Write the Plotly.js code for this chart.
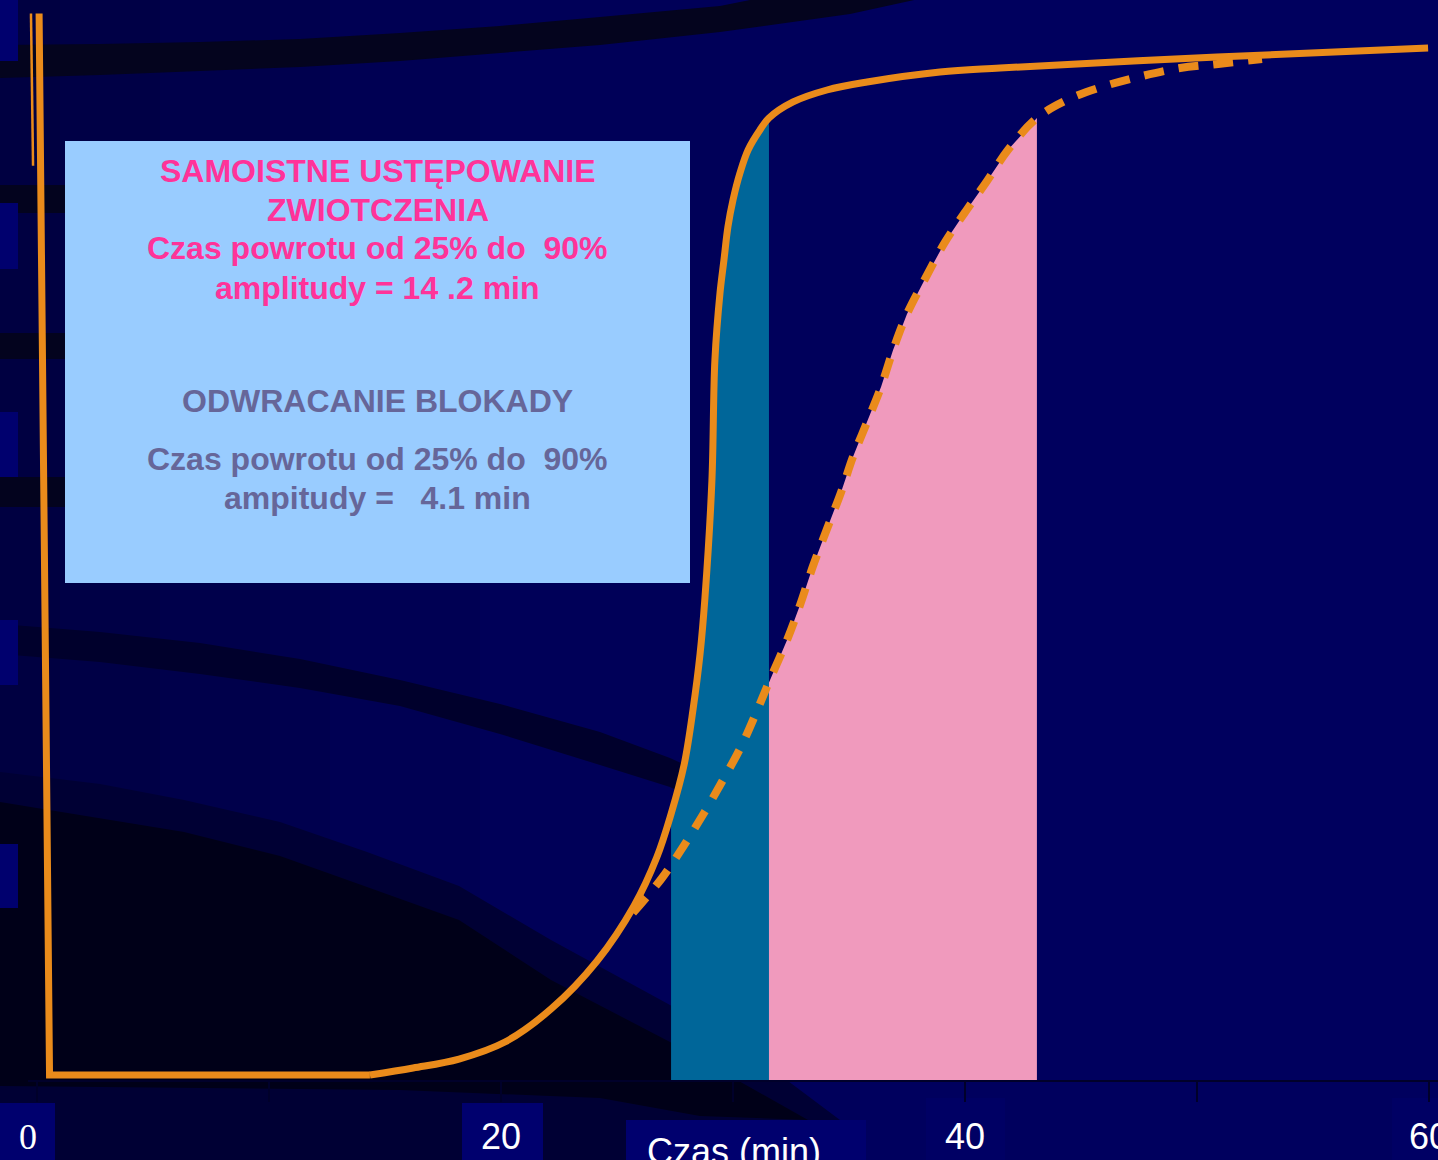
<!DOCTYPE html>
<html><head><meta charset="utf-8">
<script src="https://cdn.plot.ly/plotly-3.0.1.min.js"></script>
<style>html,body{margin:0;padding:0;background:#00005E;}#chart{width:1438px;height:1160px;}</style>
</head><body><div id="chart"></div>
<script>
// ---------------- data ----------------
// Odwracanie blokady (solid curve): time [min] vs amplitude [%]
const reversalTime = [0.09, 0.54, 14.35, 16.21, 18.19, 20.17, 22.16, 24.14, 25.73, 26.72, 27.33, 27.89, 28.28, 28.58, 28.79, 29.09, 29.22, 29.44, 29.61, 29.78, 30.00, 30.30, 30.65, 31.16, 31.55, 32.59, 34.05, 35.78, 38.92, 41.51, 50.86, 59.96];
const reversalAmp  = [101.1, 0, 0, 0.67, 1.52, 3.14, 6.29, 10.86, 16.10, 20.76, 24.86, 29.52, 34.86, 40.10, 45.43, 56.57, 68.10, 74.48, 77.62, 80.76, 83.33, 85.90, 88.10, 90.00, 91.14, 92.67, 93.81, 94.57, 95.52, 95.90, 96.95, 97.81];
// Samoistne ustępowanie zwiotczenia (dashed curve)
const spontTime = [25.69, 26.94, 27.84, 28.75, 29.57, 30.34, 31.03, 31.55, 32.33, 32.89, 33.45, 34.05, 34.66, 35.17, 35.78, 36.38, 36.90, 37.50, 38.32, 39.14, 40.04, 40.95, 41.85, 43.10, 44.40, 46.03, 47.63, 49.27, 50.91, 52.80];
const spontAmp  = [15.43, 18.76, 21.71, 24.95, 28.10, 31.24, 34.67, 37.43, 41.43, 44.76, 48.48, 52.00, 55.52, 58.86, 62.19, 65.52, 69.05, 72.48, 76.00, 79.33, 82.29, 85.14, 88.10, 91.14, 92.86, 94.19, 95.14, 95.90, 96.29, 96.76];
// thin starting stroke at the top-left
const startTime = [-0.26, -0.17];
const startAmp  = [101.1, 86.6];
// 25% -> 90% recovery windows
const reversalWindow = [27.33, 31.55];
const spontWindow    = [28.75, 43.10];
// axis ticks
const tickValues = [0, 10, 20, 30, 40, 50, 60];
const tickLabels = ['<span style="font-family:Liberation Serif">0&nbsp;&nbsp;</span>', '', '20', '', '40', '', '60'];
const xTitle = 'Czas (min)';
// text box
const boxLines = [
  'SAMOISTNE USTĘPOWANIE',
  'ZWIOTCZENIA',
  'Czas powrotu od 25% do &nbsp;90%',
  'amplitudy = 14 .2 min',
  'ODWRACANIE BLOKADY',
  'Czas powrotu od 25% do &nbsp;90%',
  'ampitudy = &nbsp; 4.1 min'
];
const boxLineKind = ['pink','pink','pink','pink','grey','grey','grey'];

// ---------------- geometry / style ----------------
const W = 1438, H = 1160, L = 28, R = 0, T = 5, B = 80;
const X0PX = 37, PX_PER_MIN = 23.2, Y0PX = 1075, PX_PER_PCT = 10.5;
const xRange = [(L - X0PX) / PX_PER_MIN, (W - R - X0PX) / PX_PER_MIN];
const yRange = [(Y0PX - (H - B)) / PX_PER_PCT, (Y0PX - T) / PX_PER_PCT];
const plotW = W - L - R, plotH = H - T - B;
const fx = x => (x - L) / plotW;
const fy = y => (H - B - y) / plotH;
function poly(pts) {
  return pts.map((p, i) => (i ? 'L' : 'M') + fx(p[0]).toFixed(5) + ',' + fy(p[1]).toFixed(5)).join(' ') + ' Z';
}
function pshape(pts, color) {
  return {type: 'path', xref: 'paper', yref: 'paper', path: poly(pts), fillcolor: color, line: {width: 0}, layer: 'below'};
}
function rect(x0, y0, x1, y1, color) {
  return {type: 'rect', xref: 'paper', yref: 'paper', x0: fx(x0), x1: fx(x1), y0: fy(y1), y1: fy(y0), fillcolor: color, line: {width: 0}, layer: 'below'};
}

const ORANGE = '#EA8B1B', TEAL = '#006699', PINK = '#F09ABD', BOXBLUE = '#99CCFF';
const PINKTXT = '#FF3399', GREYTXT = '#666699', LABELBOX = '#00006E';
const FONT = 'Liberation Sans, Arial, sans-serif';

function windowPolygon(xs, ys, win) {
  const px = [], py = [];
  xs.forEach((x, i) => { if (x >= win[0] - 1e-9 && x <= win[1] + 1e-9) { px.push(x); py.push(ys[i]); } });
  return {x: [px[0]].concat(px, [px[px.length - 1]]), y: [yRange[0]].concat(py, [yRange[0]])};
}
const pinkPoly = windowPolygon(spontTime, spontAmp, spontWindow);
const tealPoly = windowPolygon(reversalTime, reversalAmp, reversalWindow);

const traces = [
  {x: pinkPoly.x, y: pinkPoly.y, mode: 'lines', fill: 'toself', fillcolor: PINK, line: {width: 0}, hoverinfo: 'skip', showlegend: false},
  {x: tealPoly.x, y: tealPoly.y, mode: 'lines', fill: 'toself', fillcolor: TEAL, line: {width: 0}, hoverinfo: 'skip', showlegend: false},
  {x: spontTime, y: spontAmp, mode: 'lines', name: 'Samoistne ustępowanie', line: {color: ORANGE, width: 8, dash: '20px,15px', shape: 'spline', smoothing: 1}, showlegend: false},
  // solid curve: straight drop + flat baseline, then smooth recovery
  {x: reversalTime.slice(0, 3), y: reversalAmp.slice(0, 3), mode: 'lines', name: 'Odwracanie blokady', line: {color: ORANGE, width: 7}, showlegend: false},
  {x: reversalTime.slice(2), y: reversalAmp.slice(2), mode: 'lines', name: 'Odwracanie blokady', line: {color: ORANGE, width: 7, shape: 'spline', smoothing: 1}, showlegend: false},
  {x: startTime, y: startAmp, mode: 'lines', line: {color: ORANGE, width: 2.5}, hoverinfo: 'skip', showlegend: false}
];

// background decoration (slide template)
const shapes = [];
[[0, 60, 0.30], [60, 160, 0.25], [160, 270, 0.20], [270, 330, 0.16], [330, 480, 0.11], [480, 720, 0.06], [720, 860, 0.03]]
  .forEach(s => shapes.push(rect(s[0], -10, s[1], 1170, 'rgba(0,0,0,' + s[2] + ')')));
// top band
shapes.push(pshape([[0,45],[100,44],[200,42],[300,39],[400,33],[500,26],[600,17],[720,6],[800,-10],[960,-10],[850,14],[720,32],[600,45],[500,53],[400,61],[300,67],[200,71],[100,75],[0,78]], '#04041E'));
// left bands (mostly hidden by the box)
shapes.push(rect(0, 185, 400, 213, '#03031E'));
shapes.push(rect(0, 333, 400, 359, '#03031E'));
shapes.push(rect(0, 477, 400, 507, '#03031E'));
// band A
shapes.push(pshape([[0,624],[100,632],[200,643],[300,659],[400,680],[500,704],[600,732],[670,758],[740,790],[740,822],[670,787],[600,765],[500,734],[400,706],[300,688],[200,674],[100,662],[0,654]], '#00002C'));
// band B region
shapes.push(pshape([[0,772],[100,784],[184,800],[280,822],[367,852],[459,886],[551,940],[670,1005],[760,1060],[840,1120],[800,1170],[0,1170]], '#000034'));
// darkest region
shapes.push(pshape([[0,802],[184,832],[280,856],[367,887],[459,920],[551,980],[670,1042],[808,1120],[700,1116],[600,1098],[400,1090],[0,1086]], '#000018'));
// tick-label boxes
[[0,0,18,61],[0,203,18,269],[0,412,18,477],[0,620,18,685],[0,844,18,908],[0,1103,55,1170],[462,1103,543,1170],[626,1120,866,1170]]
  .forEach(b => shapes.push(rect(b[0], b[1], b[2], b[3], LABELBOX)));
[[926,1098,1005,1170],[1392,1098,1440,1170]].forEach(b => shapes.push(rect(b[0], b[1], b[2], b[3], '#000064')));
// text box
shapes.push(rect(65, 141, 690, 583, BOXBLUE));

const lineCentersPx = [171.5, 209.7, 247.5, 287.5, 401, 459, 497.5];
const annotations = boxLines.map((t, i) => ({
  text: t, xref: 'paper', yref: 'paper', x: fx(377.5), y: fy(lineCentersPx[i]),
  xanchor: 'center', yanchor: 'middle', showarrow: false,
  font: {family: FONT, size: 32, weight: 'bold', color: boxLineKind[i] === 'pink' ? PINKTXT : GREYTXT}
}));
// x axis title (placed low like the original slide, partly cut by the page edge)
annotations.push({
  text: xTitle, xref: 'paper', yref: 'paper', x: fx(734), y: fy(1151),
  xanchor: 'center', yanchor: 'middle', showarrow: false,
  font: {family: FONT, size: 36, color: '#FFFFFF'}
});

const layout = {
  width: W, height: H,
  margin: {l: L, r: R, t: T, b: B, pad: 0},
  paper_bgcolor: '#00005E', plot_bgcolor: 'rgba(0,0,0,0)',
  showlegend: false,
  font: {family: FONT, color: '#FFFFFF'},
  xaxis: {
    range: xRange, showgrid: false, zeroline: false,
    showline: true, linecolor: '#00002A', linewidth: 2,
    ticks: 'outside', ticklen: 20, tickwidth: 2, tickcolor: '#00002A',
    tickmode: 'array', tickvals: tickValues, ticktext: tickLabels,
    tickfont: {family: FONT, size: 36, color: '#FFFFFF'},
    ticklabelstandoff: 4, ticklabeloverflow: 'allow',
    automargin: false, fixedrange: true
  },
  yaxis: {range: yRange, visible: false, showgrid: false, zeroline: false, fixedrange: true},
  shapes: shapes,
  annotations: annotations
};

Plotly.newPlot('chart', traces, layout, {staticPlot: true, displayModeBar: false});
</script>
</body></html>
